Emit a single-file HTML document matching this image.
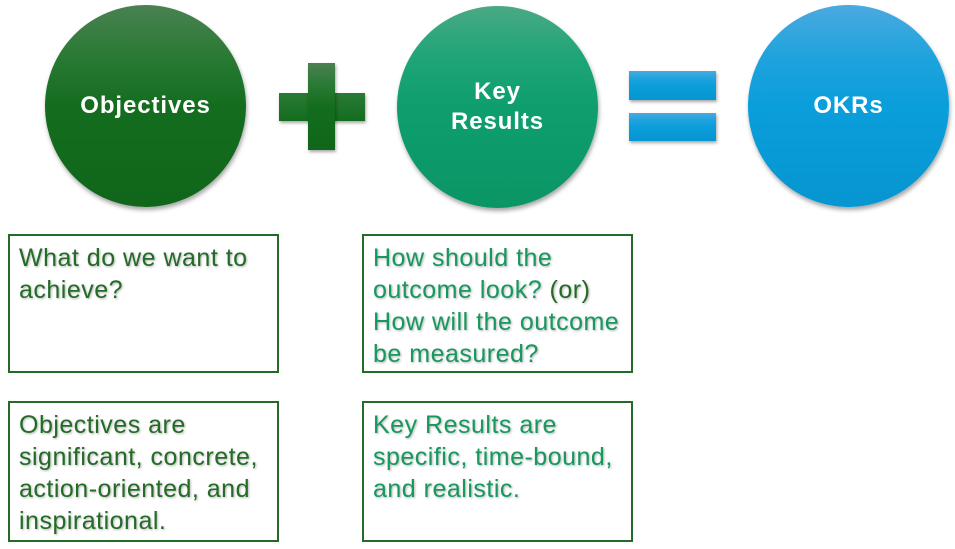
<!DOCTYPE html>
<html><head><meta charset="utf-8"><style>
body{margin:0;width:955px;height:549px;background:#fff;position:relative;overflow:hidden;font-family:"Liberation Sans",sans-serif}
.c{position:absolute;width:201px;height:202px;border-radius:50%;box-shadow:1px 3px 4px rgba(0,0,0,.35);display:flex;align-items:center;justify-content:center;color:#fff;font-weight:bold;font-size:24px;letter-spacing:0.9px;text-align:center;line-height:30px}
.g{background:linear-gradient(#4a8152,#2a7a34 25%,#146d1f 50%,#10661a)}
.t{background:linear-gradient(#4aa985,#1fa577 25%,#0e9e6e 50%,#0b9565)}
.b{background:linear-gradient(#4aaae0,#20a3dd 25%,#0a9edb 50%,#0696d1)}
.r{position:absolute;box-shadow:1px 2px 3px rgba(0,0,0,.35)}
.box{position:absolute;border:2px solid #236b26;box-sizing:border-box;padding:6px 0 0 9px;font-family:"Liberation Sans",sans-serif;font-size:25px;letter-spacing:0.5px;line-height:32px;text-shadow:1px 1px 2px rgba(0,0,0,.3);white-space:nowrap}
.d{color:#236b26}.l{color:#16985f}
</style></head><body>
<div class="c g" style="left:45px;top:5px">Objectives</div>
<div class="c t" style="left:397px;top:6px">Key<br>Results</div>
<div class="c b" style="left:748px;top:5px">OKRs</div>
<div class="r g" style="left:279px;top:93px;width:86px;height:28px;background:linear-gradient(#2a7a34,#146d1f)"></div>
<div class="r g" style="left:308px;top:63px;width:27px;height:87px"></div>
<div class="r b" style="left:629px;top:71px;width:87px;height:29px"></div>
<div class="r b" style="left:629px;top:113px;width:87px;height:28px"></div>
<div class="box d" style="left:8px;top:234px;width:271px;height:139px">What do we want to<br>achieve?</div>
<div class="box l" style="left:362px;top:234px;width:271px;height:139px">How should the<br>outcome look? <span class="d">(or)</span><br>How will the outcome<br>be measured?</div>
<div class="box d" style="left:8px;top:401px;width:271px;height:141px">Objectives are<br>significant, concrete,<br>action-oriented, and<br>inspirational.</div>
<div class="box l" style="left:362px;top:401px;width:271px;height:141px">Key Results are<br>specific, time-bound,<br>and realistic.</div>
</body></html>
